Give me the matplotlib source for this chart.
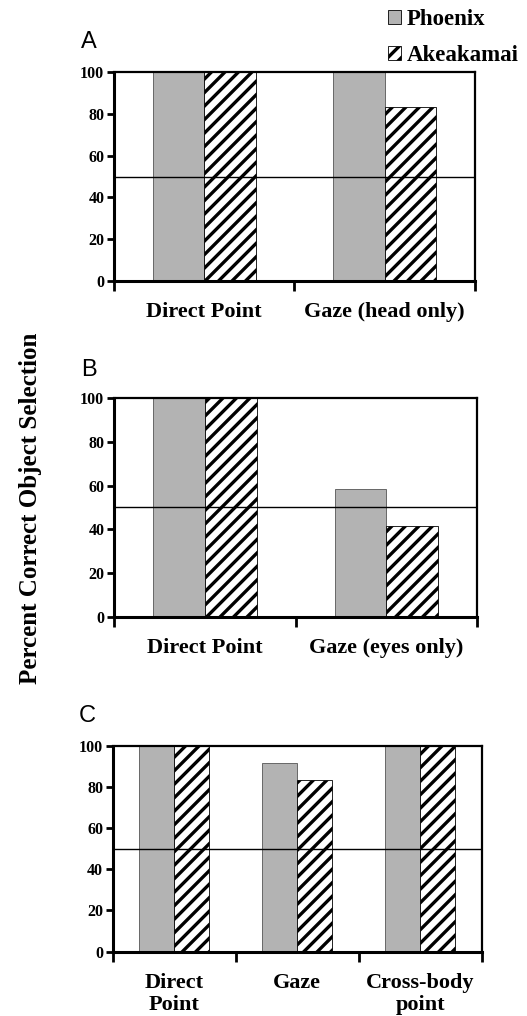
import numpy as np
import matplotlib
matplotlib.use('Agg')
from matplotlib import pyplot as plt
from matplotlib.patches import Patch

# data
series = ['Phoenix', 'Akeakamai']
cats_a = ['Direct Point', 'Gaze (head only)']
phoenix_a = [100, 100]
akea_a = [100, 83.3]
cats_b = ['Direct Point', 'Gaze (eyes only)']
phoenix_b = [100, 58.3]
akea_b = [100, 41.7]
cats_c = ['Direct\nPoint', 'Gaze', 'Cross-body\npoint']
phoenix_c = [100, 91.7, 100]
akea_c = [100, 83.3, 100]
yticks = [0, 20, 40, 60, 80, 100]
chance = 50

# lower dpi so the hatch spacing comes out wider; sizes below are scaled back
DPI = 81
S = 100.0 / DPI

plt.rcParams['hatch.linewidth'] = 2.4 * S
serif = 'Liberation Serif'
sans = 'Liberation Sans'

fig = plt.figure(figsize=(527 / DPI, 1016 / DPI), dpi=DPI)

def panel(rect, cats, p_vals, a_vals, letter, ly):
	ax = fig.add_axes(rect)
	n = len(cats)
	x = np.arange(n)
	w = 0.285
	ax.bar(x - w/2, p_vals, w, color='#b3b3b3', edgecolor='#555555', linewidth=0.6 * S)
	ax.bar(x + w/2, a_vals, w, color='white', edgecolor='black', hatch='//', linewidth=0.6 * S)
	ax.axhline(chance, color='black', linewidth=1.0 * S)
	ax.set_xlim(-0.5, n - 0.5)
	ax.set_ylim(0, 100)
	ax.set_yticks(yticks)
	ax.set_yticklabels([str(t) for t in yticks], fontfamily=serif, fontweight='bold', fontsize=11.5 * S)
	ax.set_xticks(x)
	ax.set_xticklabels(cats, fontfamily=serif, fontweight='bold', fontsize=16 * S, linespacing=1.15)
	ax.set_xticks(np.arange(n + 1) - 0.5, minor=True)
	ax.tick_params(axis='x', which='major', length=0, pad=15 * S)
	ax.tick_params(axis='x', which='minor', length=7 * S, width=2 * S, direction='out')
	ax.tick_params(axis='y', length=5 * S, width=2 * S, direction='out', pad=2 * S)
	for s in ax.spines.values():
		s.set_linewidth(1.6 * S)
	ax.spines['left'].set_linewidth(2.2 * S)
	ax.spines['bottom'].set_linewidth(2.2 * S)
	ax.text(-0.07, ly, letter, transform=ax.transAxes, fontfamily=sans, fontsize=17 * S, ha='center', va='center')
	return ax

panel([0.2163, 0.7234, 0.685, 0.2057], cats_a, phoenix_a, akea_a, 'A', 1.144)
panel([0.2163, 0.3927, 0.689, 0.2156], cats_b, phoenix_b, akea_b, 'B', 1.128)
panel([0.2139, 0.0633, 0.700, 0.2028], cats_c, phoenix_c, akea_c, 'C', 1.146)

handles = [Patch(facecolor='#b3b3b3', edgecolor='black', linewidth=0.6 * S),
	Patch(facecolor='white', edgecolor='black', hatch='//', linewidth=0.6 * S)]
fig.legend(handles, series, loc='upper left', bbox_to_anchor=(0.718, 1.0), frameon=False,
	prop={'family': serif, 'weight': 'bold', 'size': 16.5 * S}, handlelength=0.6, handleheight=0.6,
	handletextpad=0.25, labelspacing=0.65, borderaxespad=0)

fig.text(0.057, 0.5, 'Percent Correct Object Selection', rotation=90, ha='center', va='center',
	fontfamily=serif, fontweight='bold', fontsize=18 * S)

fig.savefig('out.png', dpi=DPI)
